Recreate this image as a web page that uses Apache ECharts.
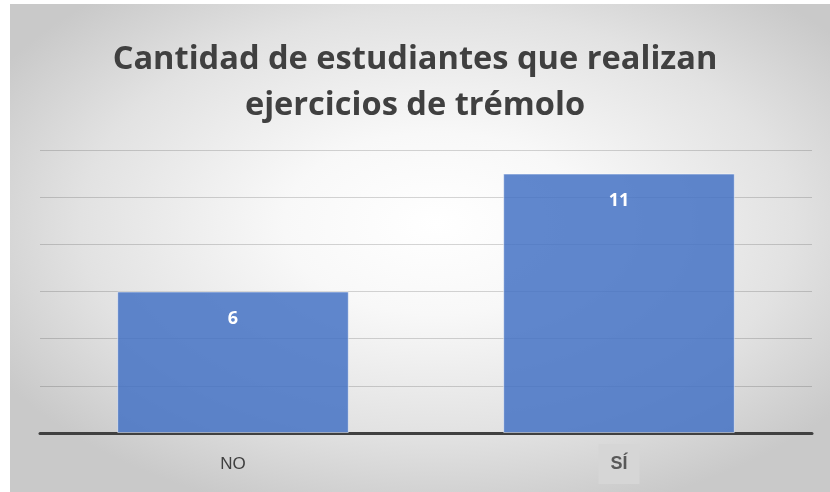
<!DOCTYPE html>
<html>
<head>
<meta charset="utf-8">
<script src="https://cdn.jsdelivr.net/npm/echarts@6/dist/echarts.min.js"></script>
<style>html,body{margin:0;padding:0;background:#fff}#c{width:830px;height:492px}</style>
</head>
<body>
<div id="c"></div>
<script>
const categories = ['NO', 'SÍ'];
const values = [6, 11];
const titleText = 'Cantidad de estudiantes que realizan\nejercicios de trémolo';

const chart = echarts.init(document.getElementById('c'), null, {renderer: 'canvas'});
chart.setOption({
  backgroundColor: '#ffffff',
  animation: false,
  graphic: [{
    type: 'rect',
    silent: true,
    z: -100,
    x: 10, y: 4,
    scaleX: 820 / 488,
    shape: {x: 0, y: 0, width: 488, height: 488},
    style: {
      fill: {
        type: 'radial', x: 0.52, y: 0.45, r: 0.62,
        colorStops: [
          {offset: 0, color: '#ffffff'},
          {offset: 0.3, color: '#f8f8f8'},
          {offset: 0.7, color: '#e2e2e2'},
          {offset: 1, color: '#c9c9c9'}
        ]
      }
    }
  }],
  title: {
    text: titleText,
    left: 'center',
    top: 32,
    textStyle: {
      fontFamily: '"Open Sans", sans-serif',
      fontWeight: 'bold',
      fontSize: 32.6,
      lineHeight: 46,
      color: '#404040'
    }
  },
  grid: {left: 40, right: 18, top: 150, bottom: 59},
  xAxis: {
    type: 'category',
    data: categories,
    axisLine: {lineStyle: {color: '#404040', width: 3}},
    axisTick: {show: false},
    axisLabel: {
      margin: 11,
      formatter: function (v) { return v === 'SÍ' ? '{s|' + v + '}' : '{n|' + v + '}'; },
      rich: {
        n: {
          fontFamily: '"Liberation Sans", sans-serif',
          fontSize: 17,
          color: '#404040',
          padding: [12, 12, 11, 12]
        },
        s: {
          fontFamily: '"Liberation Sans", sans-serif',
          fontSize: 18,
          color: '#595959',
          fontWeight: 'bold',
          backgroundColor: '#d6d6d6',
          padding: [11, 12, 11, 12]
        }
      }
    }
  },
  yAxis: {
    type: 'value',
    min: 0, max: 12, interval: 2,
    axisLabel: {show: false},
    axisLine: {show: false},
    axisTick: {show: false},
    splitLine: {lineStyle: {color: 'rgba(0,0,0,0.16)', width: 1}}
  },
  series: [{
    type: 'bar',
    data: values,
    barCategoryGap: '40%',
    itemStyle: {color: 'rgba(68,114,196,0.85)', borderColor: 'rgba(255,255,255,0.5)', borderWidth: 1},
    label: {
      show: true,
      position: 'insideTop',
      distance: 18,
      color: '#ffffff',
      fontWeight: 'bold',
      fontSize: 18,
      fontFamily: '"Open Sans", sans-serif'
    }
  }]
});
</script>
</body>
</html>
